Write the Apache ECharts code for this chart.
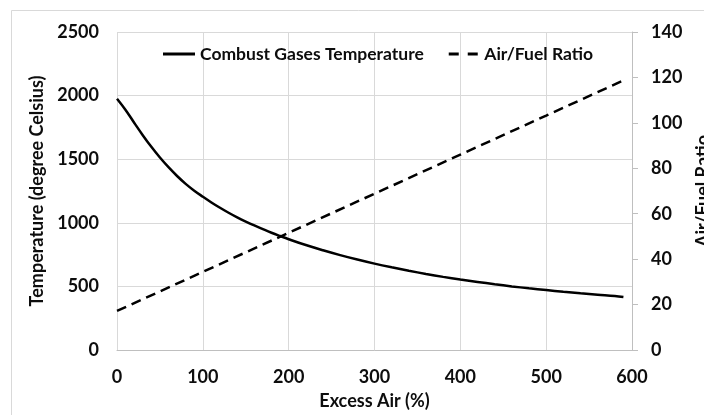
<!DOCTYPE html>
<html>
<head>
<meta charset="utf-8">
<script src="https://cdn.jsdelivr.net/npm/echarts@6/dist/echarts.min.js"></script>
<style>
html,body{margin:0;padding:0;background:#fff;}
#chart{width:704px;height:415px;}
</style>
</head>
<body>
<div id="chart"></div>
<script>
// Excess air (%) sample points for the temperature curve
var tempExcessAir = [0,10,20,30,40,50,60,70,80,90,100,110,120,130,140,150,160,170,180,190,200,220,240,260,280,300,320,340,360,380,400,420,440,460,480,500,520,540,560,580,590];
// Combust gases temperature (degree Celsius)
var tempValues = [1975,1887,1787,1689,1597,1513,1437,1368,1306,1252,1205,1160,1118,1079,1043,1010,979,950,922,896,871,825,784,746,711,679,650,623,598,575,554,535,517,500,485,471,458,446,435,425,417];
// Excess air (%) sample points for the Air/Fuel ratio line
var afrExcessAir = [0,100,200,300,400,500,590];
// Air/Fuel ratio
var afrValues = [17.2,34.4,51.6,68.8,86.0,103.2,118.7];

var xTicks = {min:0, max:600, interval:100};
var leftTicks = {min:0, max:2500, interval:500};
var rightTicks = {min:0, max:140, interval:20};

var seriesNames = ['Combust Gases Temperature', 'Air/Fuel Ratio'];
var axisTitles = {x:'Excess Air (%)', left:'Temperature (degree Celsius)', right:'Air/Fuel Ratio'};

function pairs(xs, ys){ return xs.map(function(x,i){ return [x, ys[i]]; }); }
function plain(v){ return String(v); }

var FONT = 'Lato';
var TXT = '#0d0d0d';
var FS = 18;
var chart = echarts.init(document.getElementById('chart'), null, {renderer:'canvas'});
chart.setOption({
  backgroundColor:'#ffffff',
  animation:false,
  graphic:[{
    type:'rect', silent:true, z:-10,
    shape:{x:11.5, y:10.5, width:720, height:430},
    style:{fill:'none', stroke:'#d9d9d9', lineWidth:1}
  }],
  legend:{
    left:158, top:40,
    itemWidth:32, itemHeight:3, itemGap:25,
    textStyle:{fontFamily:FONT, fontWeight:'bold', fontSize:17.5, color:TXT},
    data:[
      {name:seriesNames[0], icon:'path://M0,0H32V3H0Z', itemStyle:{color:'#000'}},
      {name:seriesNames[1], icon:'path://M0,0H10V3H0Z M19,0H29V3H19Z', itemStyle:{color:'#000'}}
    ]
  },
  grid:{left:117, right:72, top:32, bottom:65, outerBoundsMode:'none', containLabel:false},
  xAxis:{
    type:'value', min:xTicks.min, max:xTicks.max, interval:xTicks.interval,
    name:axisTitles.x, nameLocation:'middle', nameGap:42,
    nameTextStyle:{fontFamily:FONT, fontWeight:'bold', fontSize:FS, color:TXT},
    axisLine:{show:true, lineStyle:{color:'#bfbfbf', width:1}},
    axisTick:{show:false},
    axisLabel:{margin:18, fontFamily:FONT, fontWeight:'bold', fontSize:FS, color:TXT, formatter:plain},
    splitLine:{show:true, lineStyle:{color:'#d9d9d9', width:1}}
  },
  yAxis:[{
    type:'value', position:'left', min:leftTicks.min, max:leftTicks.max, interval:leftTicks.interval,
    name:axisTitles.left, nameLocation:'middle', nameGap:71, nameRotate:90,
    nameTextStyle:{fontFamily:FONT, fontWeight:'bold', fontSize:FS, color:TXT},
    axisLine:{show:false},
    axisTick:{show:false},
    axisLabel:{margin:18, fontFamily:FONT, fontWeight:'bold', fontSize:FS, color:TXT, formatter:plain},
    splitLine:{show:true, lineStyle:{color:'#d9d9d9', width:1}}
  },{
    type:'value', position:'right', min:rightTicks.min, max:rightTicks.max, interval:rightTicks.interval,
    name:axisTitles.right, nameLocation:'middle', nameGap:62, nameRotate:90, nameMoveOverlap:false,
    nameTextStyle:{fontFamily:FONT, fontWeight:'bold', fontSize:FS, color:TXT},
    axisLine:{show:true, lineStyle:{color:'#bfbfbf', width:1}},
    axisTick:{show:true, inside:false, length:6, lineStyle:{color:'#bfbfbf', width:1}},
    axisLabel:{margin:19, fontFamily:FONT, fontWeight:'bold', fontSize:FS, color:TXT, formatter:plain},
    splitLine:{show:false}
  }],
  series:[{
    name:seriesNames[0], type:'line', yAxisIndex:0,
    data:pairs(tempExcessAir, tempValues),
    smooth:0.4, symbol:'none', showSymbol:false,
    lineStyle:{color:'#000', width:2.5, type:'solid'},
    itemStyle:{color:'#000'}
  },{
    name:seriesNames[1], type:'line', yAxisIndex:1,
    data:pairs(afrExcessAir, afrValues),
    symbol:'none', showSymbol:false,
    lineStyle:{color:'#000', width:2.5, type:[10,6]},
    itemStyle:{color:'#000'}
  }]
});
</script>
</body>
</html>
